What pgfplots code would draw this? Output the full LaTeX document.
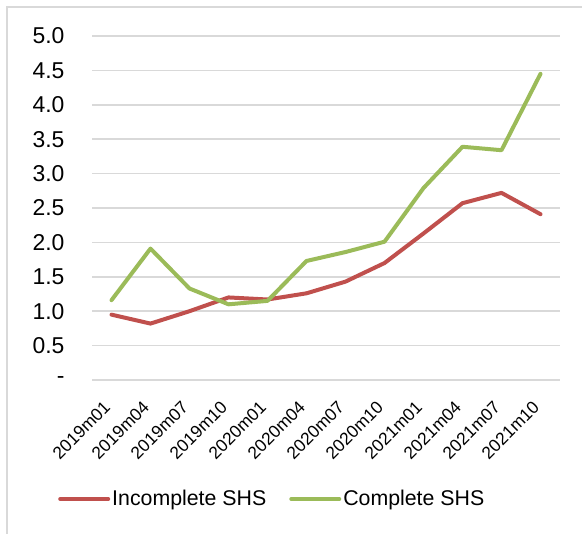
\documentclass[border=0pt]{standalone}
\usepackage{pgfplots}
\pgfplotsset{compat=1.18}
\usepackage{fontspec}
\setmainfont{Liberation Sans}
\definecolor{cred}{HTML}{C0504D}
\definecolor{cgreen}{HTML}{9BBB59}
\definecolor{cgrid}{HTML}{D9D9D9}
\begin{document}
\begin{tikzpicture}
\path[use as bounding box] (0bp,0bp) rectangle (582bp,534bp);
\draw[cgrid, line width=1.5bp] (7bp,0bp) -- (7bp,527bp) -- (582bp,527bp);
\begin{axis}[
  at={(92bp,154bp)}, anchor=south west,
  scale only axis, width=468bp, height=344bp,
  xmin=-0.5, xmax=11.5, ymin=0, ymax=5,
  axis line style={draw=none},
  major tick length=0pt,
  ymajorgrids, grid style={cgrid, line width=1.5bp},
  ytick={0,0.5,1,1.5,2,2.5,3,3.5,4,4.5,5},
  yticklabels={-,0.5,1.0,1.5,2.0,2.5,3.0,3.5,4.0,4.5,5.0},
  yticklabel style={font=\fontsize{23}{23}\selectfont, anchor=east, xshift=-24bp},
  xtick={0,...,11},
  xticklabels={2019m01,2019m04,2019m07,2019m10,2020m01,2020m04,2020m07,2020m10,2021m01,2021m04,2021m07,2021m10},
  xticklabel style={font=\fontsize{17.5}{17.5}\selectfont, anchor=east, xshift=-2bp, yshift=-22bp, rotate=45},
  legend style={at={(-0.0726,-0.346)}, anchor=west, draw=none, fill=none,
    legend columns=2, font=\fontsize{21.4}{21.4}\selectfont, inner sep=0pt,
    nodes={inner sep=2bp},
    /tikz/every even column/.append style={column sep=21bp}},
  legend cell align=left,
  legend image code/.code={\draw[#1, line width=4bp, line cap=round] (0bp,0bp) -- (48bp,0bp);},
]
\addplot[cred, line width=4bp, line join=round, line cap=round] coordinates {
(0,0.95) (1,0.82) (2,1.00) (3,1.20) (4,1.17) (5,1.26) (6,1.43) (7,1.70) (8,2.13) (9,2.57) (10,2.72) (11,2.41)};
\addlegendentry{Incomplete SHS}
\addplot[cgreen, line width=4bp, line join=round, line cap=round] coordinates {
(0,1.16) (1,1.91) (2,1.33) (3,1.10) (4,1.15) (5,1.73) (6,1.86) (7,2.01) (8,2.79) (9,3.39) (10,3.34) (11,4.45)};
\addlegendentry{Complete SHS}
\end{axis}
\end{tikzpicture}
\end{document}
